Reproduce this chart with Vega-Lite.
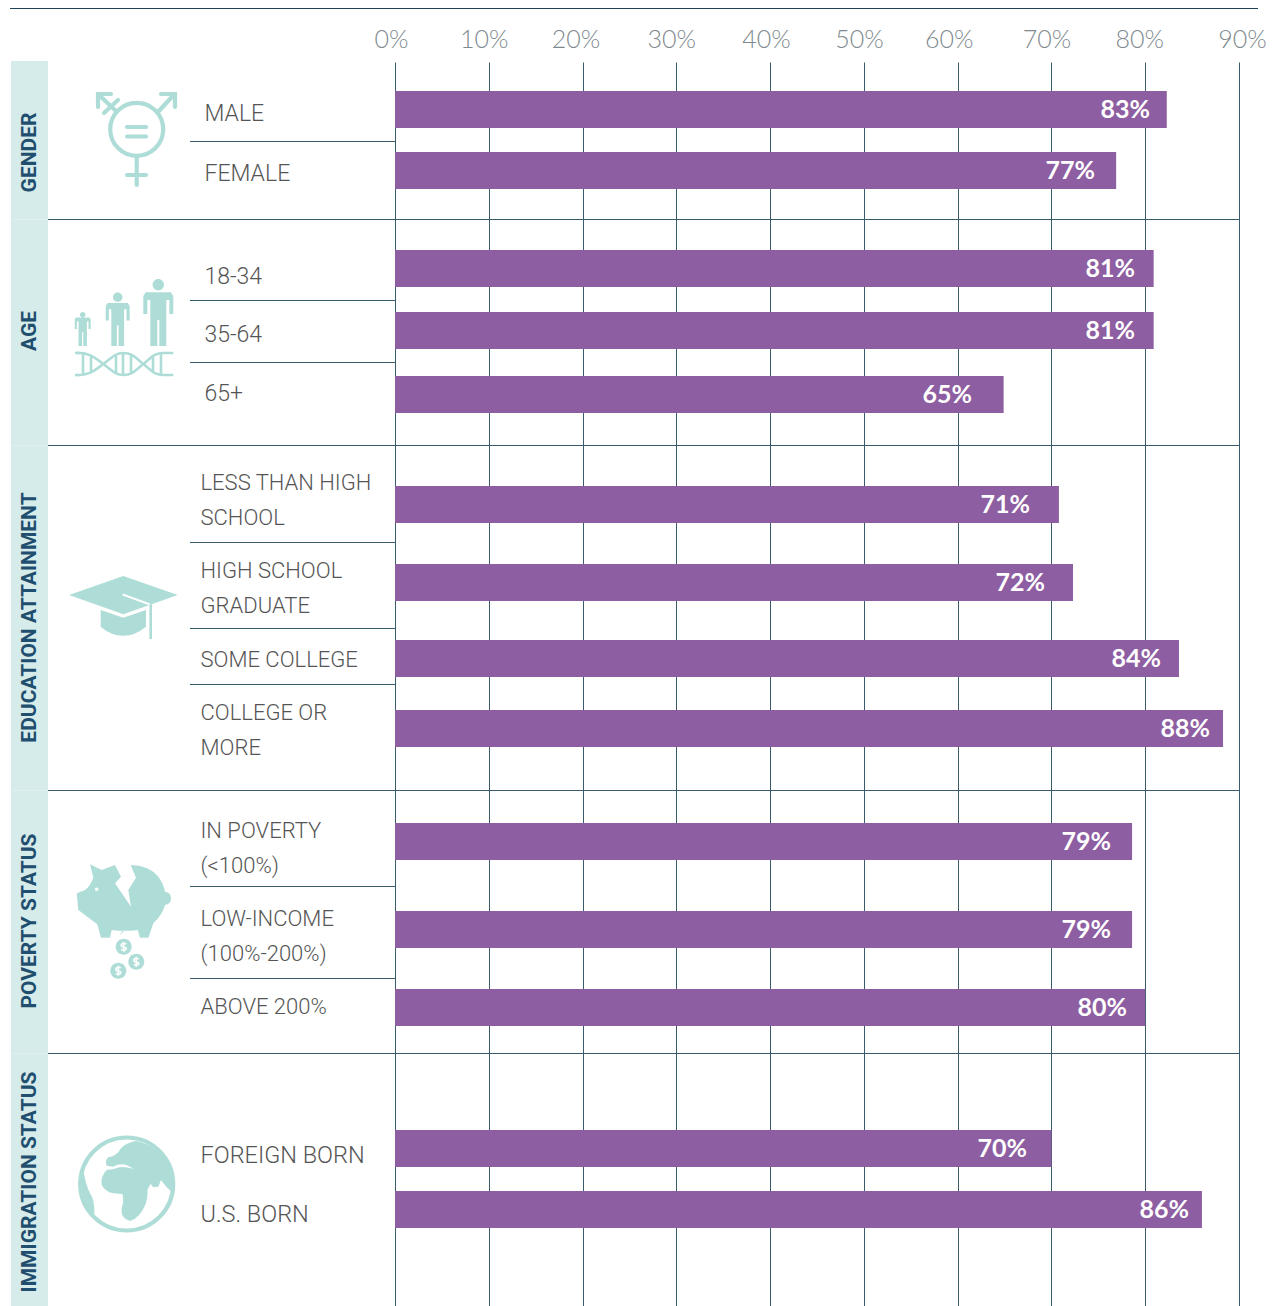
{"$schema":"https://vega.github.io/schema/vega-lite/v6.json","width":1272,"height":1244,"autosize":{"type":"none"},"padding":{"left":0,"top":62,"right":0,"bottom":0},"background":"white","view":{"stroke":null},
"datasets":{
"bars":[
{"order":1,"group":"MALE","value":82.3,"label":"83%"},{"order":2,"group":"FEMALE","value":76.9,"label":"77%"},{"order":3,"group":"18-34","value":80.9,"label":"81%"},{"order":4,"group":"35-64","value":80.9,"label":"81%"},{"order":5,"group":"65+","value":64.9,"label":"65%"},{"order":6,"group":"LESS THAN HIGH\nSCHOOL","value":70.8,"label":"71%"},{"order":7,"group":"HIGH SCHOOL\nGRADUATE","value":72.3,"label":"72%"},{"order":8,"group":"SOME COLLEGE","value":83.6,"label":"84%"},{"order":9,"group":"COLLEGE OR\nMORE","value":88.3,"label":"88%"},{"order":10,"group":"IN POVERTY\n(<100%)","value":78.6,"label":"79%"},{"order":11,"group":"LOW-INCOME\n(100%-200%)","value":78.6,"label":"79%"},{"order":12,"group":"ABOVE 200%","value":80,"label":"80%"},{"order":13,"group":"FOREIGN BORN","value":70,"label":"70%"},{"order":14,"group":"U.S. BORN","value":86.05,"label":"86%"}],
"sections":[{"section":"GENDER","index":1,"start":0,"end":1},{"section":"AGE","index":2,"start":1,"end":2},{"section":"EDUCATION ATTAINMENT","index":3,"start":2,"end":3},{"section":"POVERTY STATUS","index":4,"start":3,"end":4},{"section":"IMMIGRATION STATUS","index":5,"start":4,"end":5}],
"dividers":[{"after":1},{"after":3},{"after":4},{"after":6},{"after":7},{"after":8},{"after":10},{"after":11}],
"iconFill":[{"index":2,"icon":"age"},{"index":3,"icon":"cap"},{"index":4,"icon":"pig"},{"index":5,"icon":"earth"}],
"iconWhite":[{"index":3,"icon":"capline"},{"index":4,"icon":"pigmarks"}],
"iconThick":[{"index":1,"icon":"gender"},{"index":5,"icon":"globe"}],
"iconThin":[{"index":2,"icon":"dna"},{"index":3,"icon":"tassel"}]
},
"layer":[
{"data":{"name":"sections"},"mark":{"type":"rect","color":"#d6ecea"},"encoding":{
"x":{"datum":-40.95,"type":"quantitative","scale":{"domain":[-42.12,93.52],"nice":false,"zero":false},"axis":null},"x2":{"datum":-37},
"y":{"field":"start","type":"quantitative","scale":{"domain":[-1,0,1,2,3,4,5],"range":[-53.5,-1,157.5,383.5,728.5,991.5,1244],"nice":false,"zero":false},"axis":null},"y2":{"field":"end"}}},
{"data":{"name":"bars"},"mark":{"type":"bar","orient":"horizontal","size":37,"color":"#8e5ea2"},"encoding":{
"x":{"field":"value","type":"quantitative","stack":null,"scale":{"domain":[-42.12,93.52],"nice":false,"zero":false},"axis":{"orient":"top","values":[0,10,20,30,40,50,60,70,80,90],"labelExpr":"datum.value + '%'","title":null,"domain":false,"ticks":false,"grid":true,"gridColor":"#3a5a6e","gridWidth":1,"gridOpacity":1,"labelFont":"Lato","labelFontWeight":300,"labelFontSize":25,"labelColor":"#7f8a90","labelPadding":10,"labelFlush":false,"labelOverlap":false,"labelBound":false,"labelOffset":{"expr":"datum.value==0?-4:datum.value==10?-5:datum.value==20?-7:datum.value==30?-5:datum.value==40?-4:datum.value==50?-5:datum.value==60?-9:datum.value==70?-5:datum.value==80?-6:3"}}},
"y":{"field":"order","type":"quantitative","scale":{"domain":[0,1,2,3,4,5,6,7,8,9,10,11,12,13,14,15],"range":[0,47.5,108.5,206.5,268.5,332.5,442.5,520.5,596.5,666.5,779.5,867.5,945.5,1086.5,1147.5,1244],"nice":false,"zero":false,"padding":0},"axis":null}}},
{"data":{"name":"sections"},"transform":[{"filter":"datum.start>0"}],"mark":{"type":"rule","color":"#3a5a6e","strokeWidth":1},"encoding":{
"x":{"datum":-37,"type":"quantitative","scale":{"domain":[-42.12,93.52],"nice":false,"zero":false},"axis":null},"x2":{"datum":90},
"y":{"field":"start","type":"quantitative","scale":{"domain":[-1,0,1,2,3,4,5],"range":[-53.5,-1,157.5,383.5,728.5,991.5,1244],"nice":false,"zero":false},"axis":null}}},
{"data":{"values":[{"boundary":-1}]},"mark":{"type":"rule","color":"#1f4257","strokeWidth":1},"encoding":{
"x":{"datum":-41.05,"type":"quantitative","scale":{"domain":[-42.12,93.52],"nice":false,"zero":false},"axis":null},"x2":{"datum":92.03},
"y":{"field":"boundary","type":"quantitative","scale":{"domain":[-1,0,1,2,3,4,5],"range":[-53.5,-1,157.5,383.5,728.5,991.5,1244],"nice":false,"zero":false},"axis":null}}},
{"data":{"name":"dividers"},"mark":{"type":"rule","color":"#3a5a6e","strokeWidth":1},"encoding":{
"x":{"datum":-21.86,"type":"quantitative","scale":{"domain":[-42.12,93.52],"nice":false,"zero":false},"axis":null},"x2":{"datum":0},
"y":{"field":"after","type":"quantitative","scale":{"domain":[1,3,4,6,7,8,10,11],"range":[79.5,238.5,300.5,480.5,566.5,622.5,824.5,916.5],"nice":false,"zero":false},"axis":null}}},
{"data":{"name":"bars"},"mark":{"type":"text","font":"Lato","fontWeight":700,"fontSize":25,"color":"white","align":"right","baseline":"alphabetic","dy":8},"encoding":{
"x":{"field":"order","type":"quantitative","scale":{"domain":[1,2,3,4,5,6,7,8,9,10,11,12,13,14],"range":[1150,1095,1135,1135,972,1030,1045,1161,1210,1111,1111,1127,1027,1189],"nice":false,"zero":false},"axis":null},
"y":{"field":"order","type":"quantitative","scale":{"domain":[1,2,3,4,5,6,7,8,9,10,11,12,13,14],"range":[47.5,108.5,206.5,268.5,332.5,442.5,520.5,596.5,666.5,779.5,867.5,945.5,1086.5,1147.5],"nice":false,"zero":false},"axis":null},
"text":{"field":"label","type":"nominal"}}},
{"data":{"name":"bars"},"mark":{"type":"text","font":"Roboto","fontWeight":300,"color":"#555555","align":"left","baseline":"alphabetic","lineBreak":"\n","lineHeight":35},"encoding":{
"x":{"field":"order","type":"quantitative","scale":{"domain":[1,5,6,14],"range":[204.5,204.5,200.5,200.5],"nice":false,"zero":false},"axis":null},
"y":{"field":"order","type":"quantitative","scale":{"domain":[1,2,3,4,5,6,7,8,9,10,11,12,13,14],"range":[59,119,222,280,339,428,516,605,658,776,864,952,1101,1160],"nice":false,"zero":false},"axis":null},
"size":{"field":"order","type":"quantitative","legend":null,"scale":{"domain":[1,5,6,12,13,14],"range":[23,23,22,22,23.5,23.5],"zero":false,"nice":false}},
"text":{"field":"group","type":"nominal"}}},
{"data":{"name":"sections"},"mark":{"type":"text","font":"Roboto","fontWeight":700,"fontSize":21,"color":"#1f4e6f","angle":270,"align":"center","baseline":"middle"},"encoding":{
"x":{"datum":-38.95,"type":"quantitative","scale":{"domain":[-42.12,93.52],"nice":false,"zero":false},"axis":null},
"y":{"field":"index","type":"quantitative","scale":{"domain":[1,2,3,4,5],"range":[90.5,269,555.5,859,1120],"nice":false,"zero":false},"axis":null},
"text":{"field":"section","type":"nominal"}}},
{"data":{"name":"iconFill"},"mark":{"type":"point","filled":true,"size":4,"opacity":1,"color":"#aeddd7","strokeWidth":0},"encoding":{
"x":{"datum":-28.79,"type":"quantitative","scale":{"domain":[-42.12,93.52],"nice":false,"zero":false},"axis":null},
"y":{"field":"index","type":"quantitative","scale":{"domain":[1,2,3,4,5],"range":[78,268,548,858,1122],"nice":false,"zero":false},"axis":null},
"shape":{"field":"icon","type":"nominal","legend":null,"scale":{"domain":["age","cap","pig","earth"],"range":[
"M18.3 -34 L20.8 -37.7 L45.8 -37.7 L48.3 -34 L48.3 -16 L44.3 -16 L44.3 -30 L41.3 -30 L41.3 16 L34.3 16 L34.3 -10 L32.3 -10 L32.3 16 L25.3 16 L25.3 -30 L22.3 -30 L22.3 -16 L18.3 -16 Z M27.6 -45.3 a5.7 5.7 0 1 0 11.4 0 a5.7 5.7 0 1 0 -11.4 0 Z M-19.3 -24 L-17.3 -27 L2.7 -27 L4.7 -24 L4.7 -9.6 L1.5 -9.6 L1.5 -20.8 L-0.9 -20.8 L-0.9 16 L-6.5 16 L-6.5 -4.8 L-8.1 -4.8 L-8.1 16 L-13.7 16 L-13.7 -20.8 L-16.1 -20.8 L-16.1 -9.6 L-19.3 -9.6 Z M-12 -32.7 a4.7 4.7 0 1 0 9.4 0 a4.7 4.7 0 1 0 -9.4 0 Z M-50.3 -10.5 L-48.9 -12.5 L-35.7 -12.5 L-34.3 -10.5 L-34.3 -1 L-36.5 -1 L-36.5 -8.4 L-38.1 -8.4 L-38.1 16 L-41.7 16 L-41.7 2.2 L-42.9 2.2 L-42.9 16 L-46.5 16 L-46.5 -8.4 L-48.1 -8.4 L-48.1 -1 L-50.3 -1 Z M-45.1 -15.3 a2.8 2.8 0 1 0 5.6 0 a2.8 2.8 0 1 0 -5.6 0 Z",
"M-56 -15 L-1.7 -34 L52.7 -15 L-1.7 4.3 Z M-24.3 0 L-1.7 7.7 L21 0 L21 16.7 Q10 25.7 -1.7 25.7 Q-14 25.7 -24.3 16.7 Z",
"M-48.3 -26.7 L-40 -30 Q-35 -33.3 -31.7 -42.3 L-35 -55.7 L-23.3 -50 L-10 -55 L-4 -43.3 L-10 -36.7 L6 -13.3 L3.3 -30 L11 -42.3 L5.7 -55 Q23.3 -55 33.3 -43.3 Q38.3 -36.7 40 -28.3 Q46 -27.7 46 -21.7 Q46 -15.7 40 -15 Q37.3 -5 28.3 3.3 L23.3 17.7 L15 17.7 L12.7 10 Q0 11.7 -13.3 10 L-15 17.7 L-24 17.7 L-27.7 4.3 L-46.7 -10 Z M-5.7 16 L-2.7 11 L-1.3 11 Z M-9.3 26.7 a8 8 0 1 0 16 0 a8 8 0 1 0 -16 0 Z M3.3 41.7 a8 8 0 1 0 16 0 a8 8 0 1 0 -16 0 Z M-14.7 50.7 a8 8 0 1 0 16 0 a8 8 0 1 0 -16 0 Z",
"M10.7 -43.3 L3.3 -40.7 Q-3.3 -38.3 -6.7 -31.7 Q-11.7 -27.3 -16.7 -26.7 Q-20.7 -23 -18.3 -18.3 L-11.7 -17.3 Q-1.7 -23 8.3 -15 Q-3.3 -19 -11 -15 L-18.3 -14 Q-25 -7.3 -23.3 1 Q-20 7.7 -11.7 9.3 L-2.7 10 Q-0.7 16 -3.3 24.3 Q-5 34.3 5 37 Q15 34.3 21 19.3 Q23.3 9.3 22.3 6 L26 -0.7 L20 -7.3 L28.3 3.3 L33.3 2.7 L36 -4 L41.7 3.3 L48.3 9.3 Q50.7 -2.3 47.3 -15.7 Q40 -35.7 10.7 -43.3 Z M-41.7 -14 Q-39.3 1 -35 9.3 Q-30 16 -30.7 31 Q-43.3 17.7 -46 1 Q-46 -9 -41.7 -14 Z"]}}}},
{"data":{"name":"iconWhite"},"mark":{"type":"point","filled":false,"size":4,"opacity":1,"fill":null,"color":"white","strokeWidth":1.6},"encoding":{
"x":{"datum":-28.79,"type":"quantitative","scale":{"domain":[-42.12,93.52],"nice":false,"zero":false},"axis":null},
"y":{"field":"index","type":"quantitative","scale":{"domain":[1,2,3,4,5],"range":[78,268,548,858,1122],"nice":false,"zero":false},"axis":null},
"shape":{"field":"icon","type":"nominal","legend":null,"scale":{"domain":["capline","pigmarks"],"range":[
"M-2.3 -15.7 L25 -5.7 M-2.3 -15.2 L25 -5.2",
"M-29.3 -30.7 a1 1 0 1 0 2 0 a1 1 0 1 0 -2 0 Z M1.2 24.2 c-2.5 -2 -5.5 -.5 -5 1.5 c.5 2 5.5 1 5 3 c-.5 2 -3.5 2 -5 .5 M-1.3 21.7 l0 10 M13.8 39.2 c-2.5 -2 -5.5 -.5 -5 1.5 c.5 2 5.5 1 5 3 c-.5 2 -3.5 2 -5 .5 M11.3 36.7 l0 10 M-4.2 48.2 c-2.5 -2 -5.5 -.5 -5 1.5 c.5 2 5.5 1 5 3 c-.5 2 -3.5 2 -5 .5 M-6.7 45.7 l0 10"]}}}},
{"data":{"name":"iconThick"},"mark":{"type":"point","filled":false,"size":4,"opacity":1,"fill":null,"color":"#aeddd7","strokeWidth":4.2,"strokeCap":"round"},"encoding":{
"x":{"datum":-28.79,"type":"quantitative","scale":{"domain":[-42.12,93.52],"nice":false,"zero":false},"axis":null},
"y":{"field":"index","type":"quantitative","scale":{"domain":[1,2,3,4,5],"range":[78,268,548,858,1122],"nice":false,"zero":false},"axis":null},
"shape":{"field":"icon","type":"nominal","legend":null,"scale":{"domain":["gender","globe"],"range":[
"M-14.8 -10.7 A26.5 26.5 0 1 1 38.2 -10.7 A26.5 26.5 0 1 1 -14.8 -10.7 Z M11.7 17 L11.7 45 M2 35 L21 35 M2 -13 L21 -13 M2 -3.5 L21 -3.5 M33 -28 L49 -45.5 M36 -46 L50 -46 L50 -33 M-26 -45 L-8 -28 M-27 -33 L-27 -46 L-14 -46 M-21 -27 L-7 -40",
"M-44.8 0 A46.5 46.5 0 1 1 48.2 0 A46.5 46.5 0 1 1 -44.8 0 Z"]}}}},
{"data":{"name":"iconThin"},"mark":{"type":"point","filled":false,"size":4,"opacity":1,"fill":null,"color":"#aeddd7","strokeWidth":2.6},"encoding":{
"x":{"datum":-28.79,"type":"quantitative","scale":{"domain":[-42.12,93.52],"nice":false,"zero":false},"axis":null},
"y":{"field":"index","type":"quantitative","scale":{"domain":[1,2,3,4,5],"range":[78,268,548,858,1122],"nice":false,"zero":false},"axis":null},
"shape":{"field":"icon","type":"nominal","legend":null,"scale":{"domain":["dna","tassel"],"range":[
"M-50 23 C-36 22 -30 28 -21.7 34 S-10 45 -1.7 45 S10 41 18.3 34 S30 23 38.3 23 L48.3 23 M-50 45 C-36 46 -30 40 -21.7 34 S-10 23 -1.7 23 S10 27 18.3 34 S30 45 38.3 45 L48.3 45 M-42 24 L-42 44 M-34 27 L-34 41 M-9 26 L-9 43 M-2 24 L-2 44 M6 26 L6 42 M28 27 L28 42 M36 24 L36 44",
"M25.7 -5.7 L25.7 29 M25.7 3 L25.7 7 M24.5 5 L27 5"]}}}}
],
"resolve":{"scale":{"x":"independent","y":"independent","shape":"independent","size":"independent"}}}
